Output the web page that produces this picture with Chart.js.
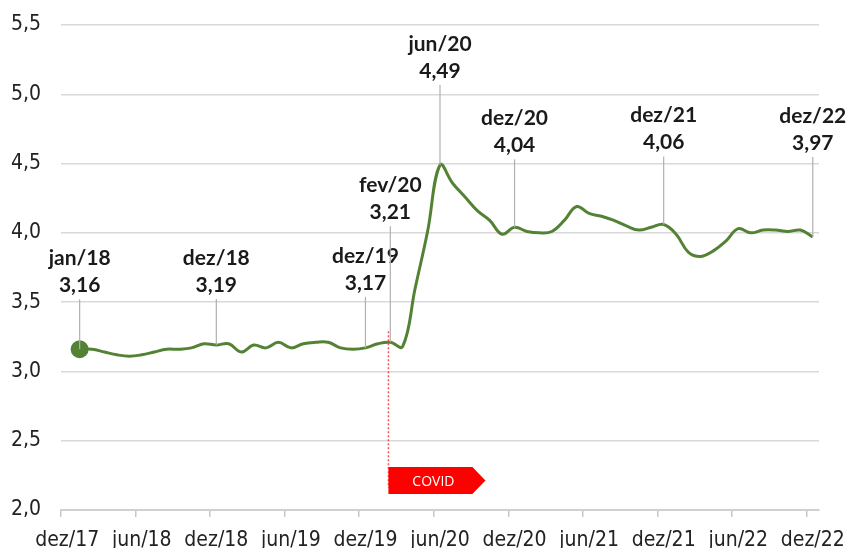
<!DOCTYPE html>
<html>
<head>
<meta charset="utf-8">
<script src="https://cdn.jsdelivr.net/npm/chart.js@4/dist/chart.umd.min.js"></script>
<style>
html, body { margin: 0; padding: 0; background: #fff; }
</style>
</head>
<body>
<canvas id="lineChart" width="848" height="548"></canvas>
<script>
// categories (dez/17 is only there for the axis, no value)
const months = [
  'dez/17',
  'jan/18','fev/18','mar/18','abr/18','mai/18','jun/18','jul/18','ago/18','set/18','out/18','nov/18','dez/18',
  'jan/19','fev/19','mar/19','abr/19','mai/19','jun/19','jul/19','ago/19','set/19','out/19','nov/19','dez/19',
  'jan/20','fev/20','mar/20','abr/20','mai/20','jun/20','jul/20','ago/20','set/20','out/20','nov/20','dez/20',
  'jan/21','fev/21','mar/21','abr/21','mai/21','jun/21','jul/21','ago/21','set/21','out/21','nov/21','dez/21',
  'jan/22','fev/22','mar/22','abr/22','mai/22','jun/22','jul/22','ago/22','set/22','out/22','nov/22','dez/22'
];

const values = [
  null,
  3.16, 3.16, 3.14, 3.12, 3.11, 3.12, 3.14, 3.16, 3.16, 3.17, 3.20, 3.19,
  3.20, 3.14, 3.19, 3.17, 3.21, 3.17, 3.20, 3.21, 3.21, 3.17, 3.16, 3.17,
  3.20, 3.21, 3.18, 3.60, 4.01, 4.49, 4.36, 4.26, 4.16, 4.09, 3.99, 4.04,
  4.01, 4.00, 4.01, 4.09, 4.19, 4.14, 4.12, 4.09, 4.05, 4.02, 4.04, 4.06,
  3.99, 3.86, 3.83, 3.87, 3.94, 4.03, 4.00, 4.02, 4.02, 4.01, 4.02, 3.97
];

const yTicks = [2.0, 2.5, 3.0, 3.5, 4.0, 4.5, 5.0, 5.5];

// labelled months and how high (px) the label sits above the point
const callouts = [
  { month: 'jan/18', lift: 50 },
  { month: 'dez/18', lift: 46 },
  { month: 'dez/19', lift: 51 },
  { month: 'fev/20', lift: 116 },
  { month: 'jun/20', lift: 80 },
  { month: 'dez/20', lift: 68 },
  { month: 'dez/21', lift: 68 },
  { month: 'dez/22', lift: 80 }
];

const covidAt = 25.85; // between jan/20 and fev/20

const green = '#548235';
const fmt = v => v.toFixed(2).replace('.', ',');
const axisFamily = "'Liberation Sans Narrow', 'DejaVu Sans Condensed', 'Liberation Sans', sans-serif";

const calloutPlugin = {
  id: 'callouts',
  afterDatasetsDraw(chart) {
    const ctx = chart.ctx;
    const x = chart.scales.x, y = chart.scales.y;

    // covid marker
    const cx = x.getPixelForValue(covidAt);
    ctx.save();
    ctx.strokeStyle = 'rgba(255,40,40,0.8)';
    ctx.lineWidth = 1.5;
    ctx.setLineDash([2, 2]);
    ctx.beginPath();
    ctx.moveTo(cx, y.getPixelForValue(3.29));
    ctx.lineTo(cx, y.getPixelForValue(2.16));
    ctx.stroke();
    ctx.setLineDash([]);
    const bTop = y.getPixelForValue(2.31), bBot = y.getPixelForValue(2.115);
    ctx.fillStyle = '#ff0000';
    ctx.beginPath();
    ctx.moveTo(cx, bTop);
    ctx.lineTo(cx + 84, bTop);
    ctx.lineTo(cx + 97, (bTop + bBot) / 2);
    ctx.lineTo(cx + 84, bBot);
    ctx.lineTo(cx, bBot);
    ctx.closePath();
    ctx.fill();
    ctx.fillStyle = '#fff';
    ctx.font = "14px 'Open Sans', sans-serif";
    ctx.textAlign = 'center';
    ctx.textBaseline = 'middle';
    ctx.fillText('COVID', cx + 45, (bTop + bBot) / 2 + 1);

    // labels with leader lines
    callouts.forEach(c => {
      const i = months.indexOf(c.month);
      const px = x.getPixelForValue(i);
      const py = y.getPixelForValue(values[i]);
      const top = py - c.lift;
      ctx.strokeStyle = '#b0b0b0';
      ctx.lineWidth = 1.2;
      ctx.beginPath();
      ctx.moveTo(px, py);
      ctx.lineTo(px, top);
      ctx.stroke();
      ctx.fillStyle = '#1a1a1a';
      ctx.font = "bold 21px Lato, 'Noto Sans', sans-serif";
      ctx.fillText(c.month, px, top - 41);
      ctx.fillText(fmt(values[i]), px, top - 14);
    });
    ctx.restore();
  }
};

const ctxL = document.getElementById('lineChart').getContext('2d');
const chart = new Chart(ctxL, {
  type: 'line',
  data: {
    labels: months,
    datasets: [{
      data: values,
      borderColor: green,
      backgroundColor: green,
      borderWidth: 3,
      tension: 0.4,
      pointRadius: c => c.index === 1 ? 9 : 0,
      pointHoverRadius: 0,
      pointBorderWidth: 0
    }]
  },
  options: {
    responsive: false,
    animation: false,
    layout: { padding: { top: 25, right: 29, left: 0, bottom: 0 } },
    plugins: { legend: { display: false }, tooltip: { enabled: false } },
    scales: {
      x: {
        offset: true,
        grid: {
          offset: true,
          drawOnChartArea: false,
          tickLength: 7,
          lineWidth: 1.5,
          color: c => (c.index !== undefined && c.index % 6 === 0) ? '#c8c8c8' : 'rgba(0,0,0,0)'
        },
        border: { display: true, color: '#d0d0d0', width: 2 },
        ticks: {
          autoSkip: false,
          maxRotation: 0,
          padding: 0,
          color: '#222',
          font: { family: axisFamily, size: 21, lineHeight: 2.25 },
          callback: (v, i) => i % 6 === 0 ? months[i] : ''
        },
        afterFit: s => { s.height = 38; }
      },
      y: {
        min: 2,
        max: 5.5,
        afterBuildTicks: s => { s.ticks = yTicks.map(v => ({ value: v })); },
        grid: { color: '#d9d9d9', lineWidth: 1.5, drawTicks: true, tickLength: 20, tickColor: 'rgba(0,0,0,0)' },
        border: { display: false },
        ticks: {
          padding: 0,
          color: '#222',
          font: { family: axisFamily, size: 21 },
          callback: v => v.toFixed(1).replace('.', ',')
        },
        afterFit: s => { s.width = 61; }
      }
    }
  },
  plugins: [calloutPlugin]
});
</script>
</body>
</html>
